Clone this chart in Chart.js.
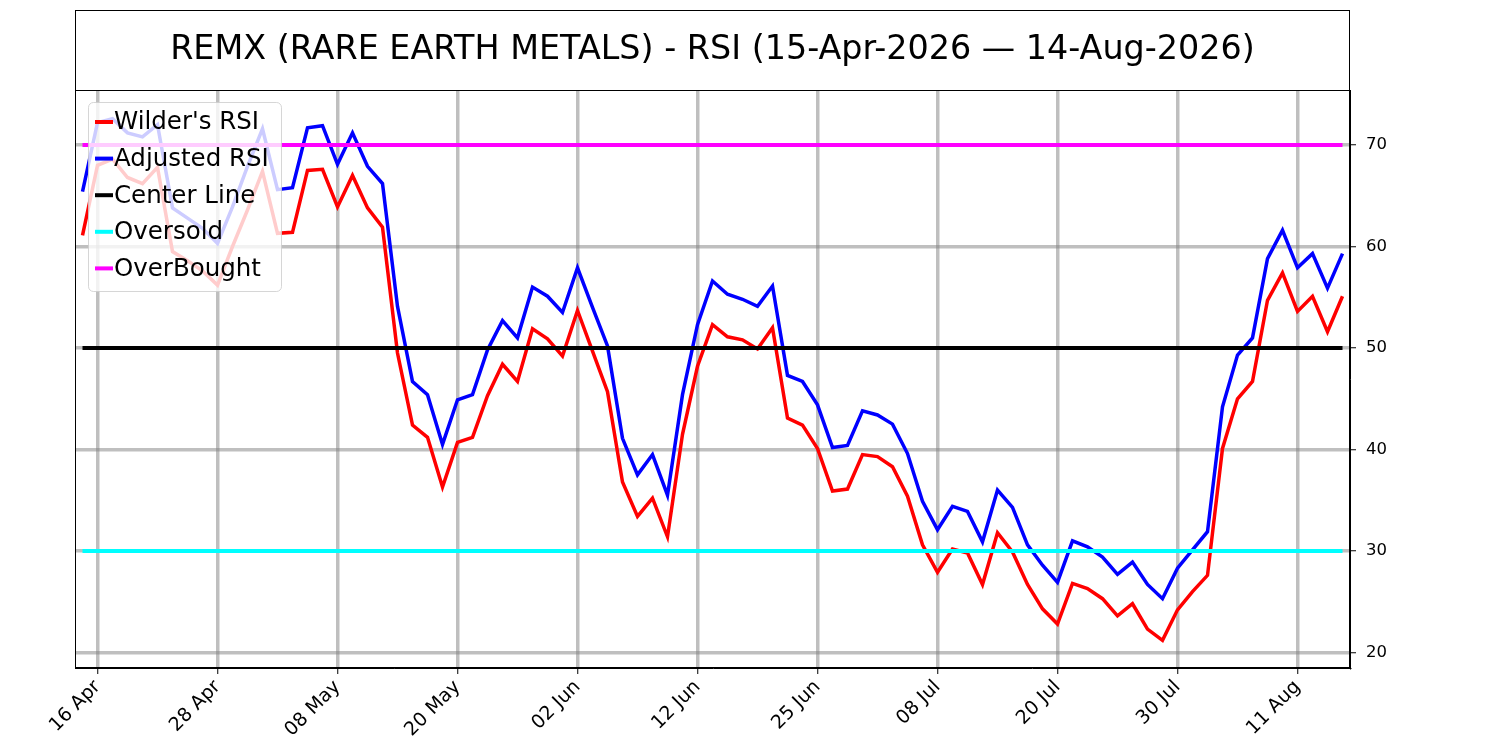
<!DOCTYPE html>
<html>
<head>
<meta charset="utf-8">
<script src="https://cdn.jsdelivr.net/npm/chart.js@4/dist/chart.umd.min.js"></script>
<style>
  html, body { margin: 0; padding: 0; background: #ffffff; }
  #wrap { width: 1500px; height: 750px; }
</style>
</head>
<body>
<div id="wrap"><canvas id="c" width="1500" height="750"></canvas></div>
<script>
const titleText = "REMX (RARE EARTH METALS) - RSI (15-Apr-2026 \u2014 14-Aug-2026)";

const dates = [
  "15 Apr","16 Apr","17 Apr","20 Apr","21 Apr","22 Apr","23 Apr","24 Apr","27 Apr","28 Apr","29 Apr","30 Apr",
  "01 May","04 May","05 May","06 May","07 May","08 May","11 May","12 May","13 May","14 May","15 May",
  "18 May","19 May","20 May","21 May","22 May","26 May","27 May","28 May","29 May",
  "01 Jun","02 Jun","03 Jun","04 Jun","05 Jun","08 Jun","09 Jun","10 Jun","11 Jun","12 Jun",
  "15 Jun","16 Jun","17 Jun","18 Jun","22 Jun","23 Jun","24 Jun","25 Jun","26 Jun","29 Jun","30 Jun",
  "01 Jul","02 Jul","06 Jul","07 Jul","08 Jul","09 Jul","10 Jul","13 Jul","14 Jul","15 Jul","16 Jul","17 Jul",
  "20 Jul","21 Jul","22 Jul","23 Jul","24 Jul","27 Jul","28 Jul","29 Jul","30 Jul","31 Jul",
  "03 Aug","04 Aug","05 Aug","06 Aug","07 Aug","10 Aug","11 Aug","12 Aug","13 Aug","14 Aug"
];

const wilderRSI = [
  61.1,68.0,68.6,66.8,66.2,67.8,59.5,58.6,57.6,56.2,60.0,63.6,
  67.4,61.3,61.4,67.5,67.6,63.9,67.0,63.8,61.9,49.5,42.4,
  41.2,36.3,40.7,41.2,45.3,48.4,46.7,51.9,50.9,
  49.2,53.7,49.7,45.7,36.8,33.4,35.2,31.4,41.5,48.2,
  52.3,51.1,50.8,49.9,52.0,43.1,42.4,40.1,35.9,36.1,39.5,
  39.3,38.3,35.4,30.6,27.9,30.2,29.8,26.7,31.8,29.9,26.7,24.3,
  22.8,26.8,26.3,25.3,23.6,24.8,22.3,21.2,24.2,26.0,
  27.6,40.1,45.0,46.7,54.7,57.4,53.6,55.1,51.6,55.1
];

const adjustedRSI = [
  65.4,72.2,72.6,71.2,70.8,72.0,63.8,62.8,61.8,60.3,63.9,67.9,
  71.6,65.6,65.8,71.7,71.9,68.1,71.2,67.9,66.2,54.1,46.7,
  45.4,40.5,44.9,45.4,49.8,52.7,51.0,56.0,55.1,
  53.5,57.9,54.0,50.2,41.1,37.5,39.5,35.5,45.4,52.3,
  56.6,55.3,54.8,54.1,56.1,47.3,46.7,44.4,40.2,40.4,43.8,
  43.4,42.5,39.6,34.9,32.1,34.4,33.9,30.9,36.0,34.3,30.6,28.6,
  26.9,31.0,30.4,29.4,27.7,28.9,26.7,25.3,28.3,30.1,
  31.9,44.2,49.3,51.0,58.8,61.6,57.9,59.3,55.9,59.3
];

const centerLevel = 50;
const oversoldLevel = 30;
const overboughtLevel = 70;

const seriesNames = ["Wilder's RSI", "Adjusted RSI", "Center Line", "Oversold", "OverBought"];
const seriesColors = ["#ff0000", "#0000ff", "#000000", "#00ffff", "#ff00ff"];

const yTicks = [20, 30, 40, 50, 60, 70];
const tickEvery = 8;
const tickStart = 1;

const FONT = "'DejaVu Sans', sans-serif";

const flat = v => dates.map(() => v);

const seriesData = [wilderRSI, adjustedRSI, flat(centerLevel), flat(oversoldLevel), flat(overboughtLevel)];

const datasets = seriesData.map((d, k) => ({
  label: seriesNames[k],
  data: d,
  borderColor: seriesColors[k],
  backgroundColor: seriesColors[k],
  borderWidth: k < 2 ? 3.5 : 4,
  pointRadius: 0,
  tension: 0,
  fill: false,
  order: 5 - k
}));

const framePlugin = {
  id: 'frame',
  beforeDraw(chart) {
    const ctx = chart.ctx;
    ctx.save();
    ctx.fillStyle = '#ffffff';
    ctx.fillRect(0, 0, chart.width, chart.height);
    ctx.restore();
  },
  afterDraw(chart) {
    const ctx = chart.ctx;
    const a = chart.chartArea;
    ctx.save();
    // plot frame
    ctx.strokeStyle = '#000';
    ctx.lineWidth = 1;
    ctx.strokeRect(a.left + 0.5, a.top + 0.5, a.right - a.left - 1, a.bottom - a.top - 1);
    // title box
    const tTop = 10;
    ctx.strokeRect(a.left + 0.5, tTop + 0.5, a.right - a.left - 1, a.top - tTop);
    // title text
    let size = 100;
    ctx.font = size + "px " + FONT;
    const w = ctx.measureText(titleText).width;
    size = size * 1085 / w;
    ctx.font = size.toFixed(2) + "px " + FONT;
    ctx.fillStyle = '#000';
    ctx.textAlign = 'center';
    ctx.textBaseline = 'middle';
    ctx.fillText(titleText, (a.left + a.right) / 2, (tTop + a.top) / 2);

    // legend
    const lx = a.left + 13, ly = a.top + 12, lw = 193, lh = 189;
    ctx.beginPath();
    if (ctx.roundRect) ctx.roundRect(lx + 0.5, ly + 0.5, lw, lh, 5); else ctx.rect(lx + 0.5, ly + 0.5, lw, lh);
    ctx.fillStyle = 'rgba(255,255,255,0.8)';
    ctx.fill();
    ctx.strokeStyle = 'rgba(204,204,204,0.8)';
    ctx.lineWidth = 1;
    ctx.stroke();
    ctx.font = "24.5px " + FONT;
    ctx.textAlign = 'left';
    ctx.textBaseline = 'middle';
    seriesNames.forEach((name, k) => {
      const yy = ly + 20 + k * 36.6;
      ctx.strokeStyle = seriesColors[k];
      ctx.lineWidth = 4;
      ctx.beginPath();
      ctx.moveTo(lx + 7, yy);
      ctx.lineTo(lx + 25, yy);
      ctx.stroke();
      ctx.fillStyle = '#000';
      ctx.fillText(name, lx + 26, yy + 1);
    });
    ctx.restore();
  }
};

new Chart(document.getElementById('c'), {
  type: 'line',
  data: { labels: dates, datasets: datasets },
  options: {
    responsive: false,
    animation: false,
    devicePixelRatio: 1,
    layout: { padding: { top: 90, left: 75, right: 0, bottom: 0 } },
    plugins: {
      legend: { display: false },
      title: { display: false },
      tooltip: { enabled: false }
    },
    scales: {
      x: {
        type: 'category',
        offset: true,
        afterFit(scale) { scale.height = 82; },
        grid: {
          offset: false,
          color: 'rgba(128,128,128,0.5)',
          lineWidth: 3.5,
          tickColor: '#000',
          tickLength: 6,
          tickWidth: 1,
          drawOnChartArea: true
        },
        border: { display: true, color: '#000', width: 1 },
        ticks: {
          autoSkip: false,
          minRotation: 45,
          maxRotation: 45,
          color: '#000',
          padding: 2,
          font: { family: FONT, size: 19 },
          callback(value, index) {
            return (index - tickStart) % tickEvery === 0 && index >= tickStart ? dates[index] : null;
          }
        }
      },
      y: {
        type: 'linear',
        position: 'right',
        min: 18.47,
        max: 75.42,
        afterFit(scale) { scale.width = 150; },
        afterBuildTicks(scale) { scale.ticks = yTicks.map(v => ({ value: v })); },
        grid: {
          color: 'rgba(128,128,128,0.5)',
          lineWidth: 3.5,
          tickColor: '#000',
          tickLength: 6,
          tickWidth: 1
        },
        border: { display: true, color: '#000', width: 1 },
        ticks: {
          includeBounds: false,
          color: '#000',
          padding: 10,
          font: { family: FONT, size: 16.5 }
        }
      }
    }
  },
  plugins: [framePlugin]
});
</script>
</body>
</html>
